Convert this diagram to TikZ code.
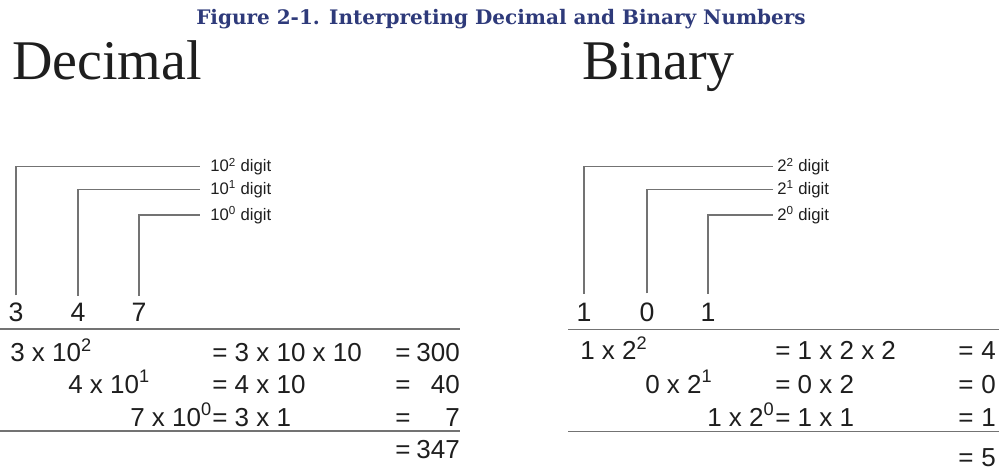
\documentclass[tikz,border=0pt]{standalone}
\usepackage{fontspec}
\setmainfont{Liberation Sans}
\newfontfamily\headfont{Liberation Serif}
\newfontfamily\captfont{DejaVu Serif}
\usetikzlibrary{positioning}
\usepackage{xcolor}
\definecolor{capblue}{RGB}{46,58,122}
\definecolor{ink}{RGB}{30,30,30}
\definecolor{rulegray}{RGB}{115,115,115}

\begin{document}
\begin{tikzpicture}[x=0.75pt, y=-0.75pt,
  lead/.style={rulegray, line width=0.9pt},
  rulex/.style={rulegray, line width=1.1pt},
  num/.style={inner sep=0pt, anchor=base, text=ink, font=\fontsize{20}{20}\selectfont},
  tag/.style={inner sep=0pt, anchor=west, text=ink, font=\fontsize{12.5}{13}\selectfont},
  term/.style={inner sep=0pt, anchor=base west, text=ink, font=\fontsize{19.5}{20}\selectfont},
  sum/.style={inner sep=0pt, anchor=base east, text=ink, font=\fontsize{19.5}{20}\selectfont},
  head/.style={inner sep=0pt, anchor=base west, text=ink, font=\headfont\fontsize{42}{42}\selectfont}]
  \useasboundingbox (0,0) rectangle (999,474);
  % caption and headings
  \node[capblue, inner sep=0pt, anchor=base, font=\captfont\bfseries\fontsize{15}{16}\selectfont] (cap) at (501,25) {Figure 2-1. Interpreting Decimal and Binary Numbers};
  \node[head] (dechead) at (12,80) {Decimal};
  \node[head] (binhead) at (582,80) {Binary};
  % decimal digits with place labels
  \foreach \d/\x/\p/\y in {3/16/2/166.7, 4/78/1/189.3, 7/139/0/215} {
    \node[num] (dd\p) at (\x,321.7) {\d};
    \node[tag] (dl\p) at (210,\y) {10\textsuperscript{\p} digit};
    \draw[lead, shorten <=5.5pt, shorten >=7.5pt] (dd\p.north) |- (dl\p.west);
  }
  % binary digits with place labels
  \foreach \d/\x/\p/\y in {1/584/2/166.7, 0/647/1/189.3, 1/708/0/215} {
    \node[num] (bd\p) at (\x,321.7) {\d};
    \node[tag] (bl\p) at (777,\y) {2\textsuperscript{\p} digit};
    \draw[lead, shorten <=7pt, shorten >=3pt] (bd\p.north) |- (bl\p.west);
  }
  % rules
  \draw[rulex] (0,329) -- (460,329);
  \draw[rulex] (0,431) -- (460,431);
  \draw[rulex] (568,329.3) -- (999,329.3);
  \draw[rulex] (568,431.7) -- (999,431.7);
  % decimal expansion
  \foreach \p/\y/\xa/\a/\b/\v in {2/361.7/10/3/{3 x 10 x 10}/300, 1/393/68/4/{4 x 10}/40, 0/426/130/7/{3 x 1}/7} {
    \node[term] (da\p) at (\xa,\y) {\a\ x 10\textsuperscript{\p}};
    \node[term] (db\p) at (212,\y) {= \b};
    \node[term] (de\p) at (395,\y) {=};
    \node[sum] (dv\p) at (460,\y) {\v};
  }
  \node[term] (detot) at (395,458) {=};
  \node[sum] (dtot) at (460,458) {347};
  % binary expansion
  \foreach \p/\y/\xa/\a/\b/\v in {2/359.3/580/1/{1 x 2 x 2}/4, 1/393/645/0/{0 x 2}/0, 0/426/707/1/{1 x 1}/1} {
    \node[term] (ba\p) at (\xa,\y) {\a\ x 2\textsuperscript{\p}};
    \node[term] (bb\p) at (775,\y) {= \b};
    \node[term] (be\p) at (958,\y) {=};
    \node[sum] (bv\p) at (996,\y) {\v};
  }
  \node[term] (betot) at (958,466.7) {=};
  \node[sum] (btot) at (996,466.7) {5};
\end{tikzpicture}
\end{document}
